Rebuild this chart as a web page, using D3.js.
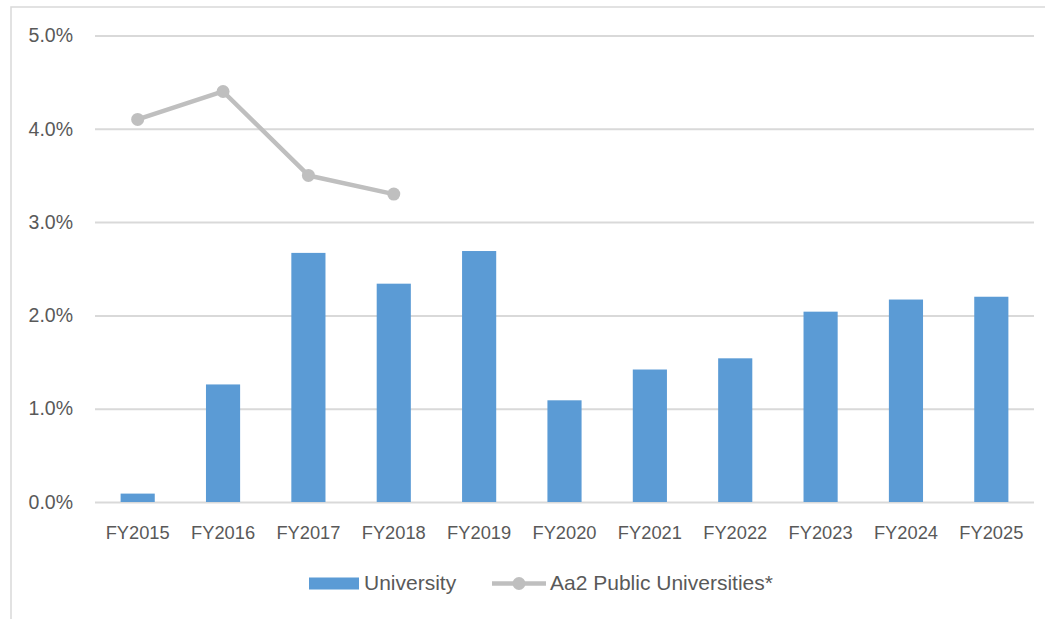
<!DOCTYPE html>
<html>
<head>
<meta charset="utf-8">
<script src="https://cdn.jsdelivr.net/npm/d3@7"></script>
<style>
  html, body { margin: 0; padding: 0; background: #fff; }
  svg { display: block; font-family: "Liberation Sans", Arial, sans-serif; }
</style>
</head>
<body>
<svg id="chart" width="1045" height="619"></svg>
<script>
// Fiscal years on the category axis
const categories = ["FY2015", "FY2016", "FY2017", "FY2018", "FY2019", "FY2020",
                    "FY2021", "FY2022", "FY2023", "FY2024", "FY2025"];
// University series (percent)
const universityValues = [0.09, 1.26, 2.67, 2.34, 2.69, 1.09, 1.42, 1.54, 2.04, 2.17, 2.20];
// Aa2 peer median (percent), only reported through FY2018
const peerCategories = ["FY2015", "FY2016", "FY2017", "FY2018"];
const peerValues = [4.1, 4.4, 3.5, 3.3];
// Value axis ticks (percent)
const yTicks = [0, 1, 2, 3, 4, 5];
const seriesNames = ["University", "Aa2 Public Universities*"];

const svg = d3.select("#chart");
const textColor = "#595959";
const gridColor = "#d9d9d9";
const barColor = "#5b9bd5";
const lineColor = "#bfbfbf";

// Chart frame
svg.append("rect")
  .attr("x", 11).attr("y", 7)
  .attr("width", 1200).attr("height", 800)
  .attr("fill", "none").attr("stroke", gridColor).attr("stroke-width", 1.5);

const x = d3.scaleBand()
  .domain(categories)
  .range([95, 1034])
  .paddingInner(0.6)
  .paddingOuter(0.3);

const y = d3.scaleLinear().domain([0, 5]).range([502, 35.5]);

// Horizontal gridlines and value-axis labels
const yAxis = d3.axisLeft(y)
  .tickValues(yTicks)
  .tickSize(-(1034 - 95))
  .tickPadding(22)
  .tickFormat(d => d.toFixed(1) + "%");

const gy = svg.append("g").attr("transform", "translate(95,0)").call(yAxis);
gy.select(".domain").remove();
gy.selectAll(".tick line").attr("stroke", gridColor).attr("stroke-width", 2);
gy.selectAll(".tick text")
  .attr("fill", textColor)
  .attr("font-size", 19.5)
  .attr("font-family", "Liberation Sans, Arial, sans-serif");

// Category-axis labels
const xAxis = d3.axisBottom(x).tickSize(0).tickPadding(24);
const gx = svg.append("g").attr("transform", "translate(0,502)").call(xAxis);
gx.select(".domain").remove();
gx.selectAll(".tick text")
  .attr("fill", textColor)
  .attr("font-size", 18.3)
  .attr("font-family", "Liberation Sans, Arial, sans-serif");

// Bars
svg.append("g").selectAll("rect")
  .data(categories.map((c, i) => ({ c, v: universityValues[i] })))
  .join("rect")
  .attr("x", d => x(d.c))
  .attr("y", d => y(d.v))
  .attr("width", x.bandwidth())
  .attr("height", d => y(0) - y(d.v))
  .attr("fill", barColor);

// Peer line with markers
const peerData = peerCategories.map((c, i) => ({ c, v: peerValues[i] }));
const line = d3.line()
  .x(d => x(d.c) + x.bandwidth() / 2)
  .y(d => y(d.v));

svg.append("path")
  .datum(peerData)
  .attr("d", line)
  .attr("fill", "none")
  .attr("stroke", lineColor)
  .attr("stroke-width", 4.5)
  .attr("stroke-linejoin", "round");

svg.append("g").selectAll("circle")
  .data(peerData)
  .join("circle")
  .attr("cx", d => x(d.c) + x.bandwidth() / 2)
  .attr("cy", d => y(d.v))
  .attr("r", 6.5)
  .attr("fill", lineColor);

// Legend
const legend = svg.append("g");
legend.append("rect")
  .attr("x", 309).attr("y", 577.5)
  .attr("width", 50).attr("height", 12)
  .attr("fill", barColor);
legend.append("text")
  .attr("x", 364).attr("y", 590)
  .attr("fill", textColor).attr("font-size", 21)
  .text(seriesNames[0]);

legend.append("line")
  .attr("x1", 492).attr("x2", 546)
  .attr("y1", 583.5).attr("y2", 583.5)
  .attr("stroke", lineColor).attr("stroke-width", 4.5);
legend.append("circle")
  .attr("cx", 519).attr("cy", 583.5).attr("r", 6.5)
  .attr("fill", lineColor);
legend.append("text")
  .attr("x", 550).attr("y", 590)
  .attr("fill", textColor).attr("font-size", 21)
  .text(seriesNames[1]);
</script>
</body>
</html>
